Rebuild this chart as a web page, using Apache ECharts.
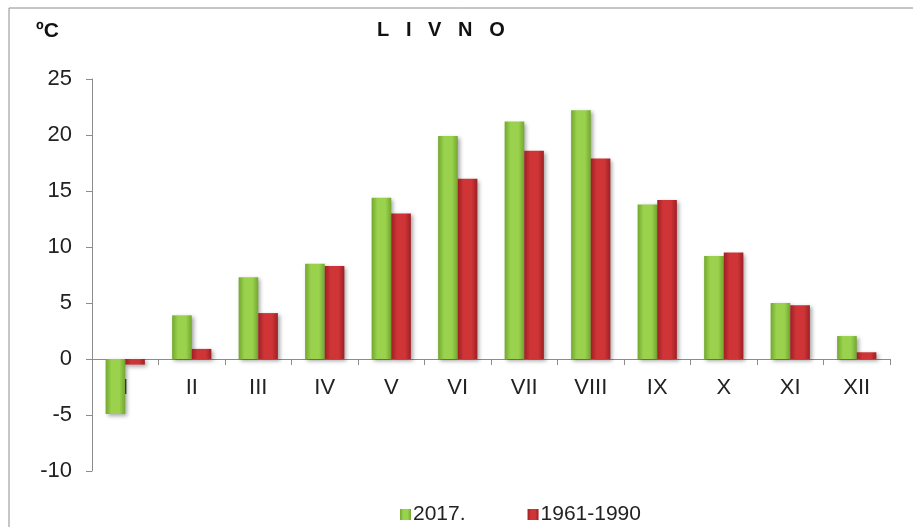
<!DOCTYPE html>
<html>
<head>
<meta charset="utf-8">
<script src="https://cdn.jsdelivr.net/npm/echarts@6/dist/echarts.min.js"></script>
<style>html,body{margin:0;padding:0;background:#fff;}#c{width:913px;height:527px;}</style>
</head>
<body>
<div id="c"></div>
<script>
const categories = ['I','II','III','IV','V','VI','VII','VIII','IX','X','XI','XII'];
const series2017 = [-4.9, 3.9, 7.3, 8.5, 14.4, 19.9, 21.2, 22.2, 13.8, 9.2, 5.0, 2.05];
const series1961 = [-0.5, 0.9, 4.1, 8.3, 13.0, 16.1, 18.6, 17.9, 14.2, 9.5, 4.8, 0.6];
const seriesNames = ['2017.', '1961-1990'];
const yTicks = {min: -10, max: 25, interval: 5};

const FONT = 'Liberation Sans, Arial, sans-serif';
const GRID = {left: 92, right: 23, top: 79, bottom: 56};
const plotH = 527 - GRID.top - GRID.bottom;
// place the category axis at value 0
const zeroOffset = -plotH * (0 - yTicks.min) / (yTicks.max - yTicks.min);

const chart = echarts.init(document.getElementById('c'), null, {renderer: 'canvas'});

function grad(edge, mid) {
  return new echarts.graphic.LinearGradient(0, 0, 1, 0, [
    {offset: 0, color: edge},
    {offset: 0.3, color: mid},
    {offset: 0.7, color: mid},
    {offset: 1, color: edge}
  ]);
}

chart.setOption({
  animation: false,
  backgroundColor: '#fff',
  graphic: [
    {type: 'rect', shape: {x: 9, y: 8, width: 1000, height: 600}, style: {fill: 'none', stroke: '#8c8c8c', lineWidth: 1}, silent: true},
    {type: 'text', left: 36, top: 21, style: {text: 'ºC', font: 'bold 21px ' + FONT, fill: '#111'}},
    {type: 'text', left: 377, top: 20, style: {text: 'L   I   V   N   O', font: 'bold 20px ' + FONT, fill: '#111'}}
  ],
  legend: {
    data: seriesNames,
    left: 395,
    top: 499,
    itemWidth: 11,
    itemHeight: 11,
    itemGap: 62,
    icon: 'rect',
    textStyle: {fontFamily: FONT, fontSize: 21, color: '#222', padding: [0, 0, 0, -3]}
  },
  grid: Object.assign({containLabel: false}, GRID),
  xAxis: {
    type: 'category',
    data: categories,
    offset: zeroOffset,
    axisLine: {onZero: false, lineStyle: {color: '#8c8c8c', width: 1}},
    axisTick: {show: true, length: 6, alignWithLabel: false, lineStyle: {color: '#8c8c8c'}},
    axisLabel: {fontFamily: FONT, fontSize: 22, color: '#222', margin: 18},
    splitLine: {show: false}
  },
  yAxis: {
    type: 'value',
    min: yTicks.min, max: yTicks.max, interval: yTicks.interval,
    axisLine: {show: true, lineStyle: {color: '#8c8c8c', width: 1}},
    axisTick: {show: true, length: 6, lineStyle: {color: '#8c8c8c'}},
    axisLabel: {fontFamily: FONT, fontSize: 22, color: '#222', margin: 20},
    splitLine: {show: false}
  },
  series: [
    {
      name: seriesNames[0], type: 'bar', data: series2017,
      barGap: '0%', barCategoryGap: '41%',
      itemStyle: {color: grad('#72a82e', '#9ad24e'), shadowBlur: 4, shadowColor: 'rgba(0,0,0,0.35)', shadowOffsetX: 2, shadowOffsetY: 2}
    },
    {
      name: seriesNames[1], type: 'bar', data: series1961,
      barGap: '0%', barCategoryGap: '41%',
      itemStyle: {color: grad('#9e1f24', '#cf3536'), shadowBlur: 4, shadowColor: 'rgba(0,0,0,0.35)', shadowOffsetX: 2, shadowOffsetY: 2}
    }
  ]
});
</script>
</body>
</html>
